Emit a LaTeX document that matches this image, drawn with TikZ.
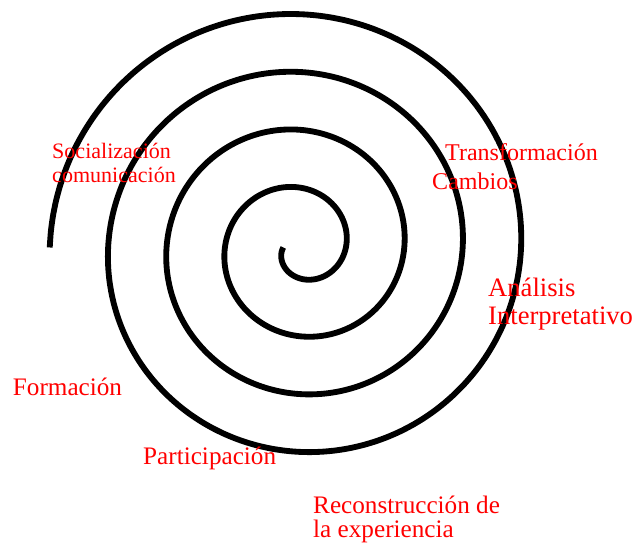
\documentclass[tikz,border=0pt]{standalone}
\usepackage{fontspec}
\setmainfont{Liberation Serif}
\definecolor{etiquetared}{rgb}{1.00,0.00,0.00}

\begin{document}
\begin{tikzpicture}[x=0.3mm,y=0.3mm,
   espiral/.style={draw=black,line width=1.75mm},
   etiqueta/.style={text=etiquetared,anchor=base west,inner sep=0pt,align=left,
                    font=\fontsize{21.5}{21.3}\selectfont}]
  \useasboundingbox (0,0) rectangle (636,543);
  % spiral, from the centre outwards
  \draw[espiral] plot[domain=180:1620,samples=400,smooth,variable=\t]
    ({300+(16.7+0.1622*(\t-180))*cos(\t)},{295.5+0.99*(16.7+0.1622*(\t-180))*sin(\t)});
  \node[etiqueta,font=\fontsize{18.8}{20.5}\selectfont] (socializacion) at (52,360) {Socialización\\comunicación};
  \node[etiqueta,font=\fontsize{20.5}{20.5}\selectfont] (transformacion) at (445,382.3) {Transformación};
  \node[etiqueta,font=\fontsize{20.5}{20.5}\selectfont] (cambios) at (432,353) {Cambios};
  \node[etiqueta,font=\fontsize{22.7}{23.9}\selectfont] (analisis) at (488,218) {Análisis\\Interpretativo};
  \node[etiqueta] (formacion) at (12.7,147) {Formación};
  \node[etiqueta] (participacion) at (143,78) {Participación};
  \node[etiqueta] (reconstruccion) at (313,5) {Reconstrucción de\\la experiencia};
\end{tikzpicture}
\end{document}
